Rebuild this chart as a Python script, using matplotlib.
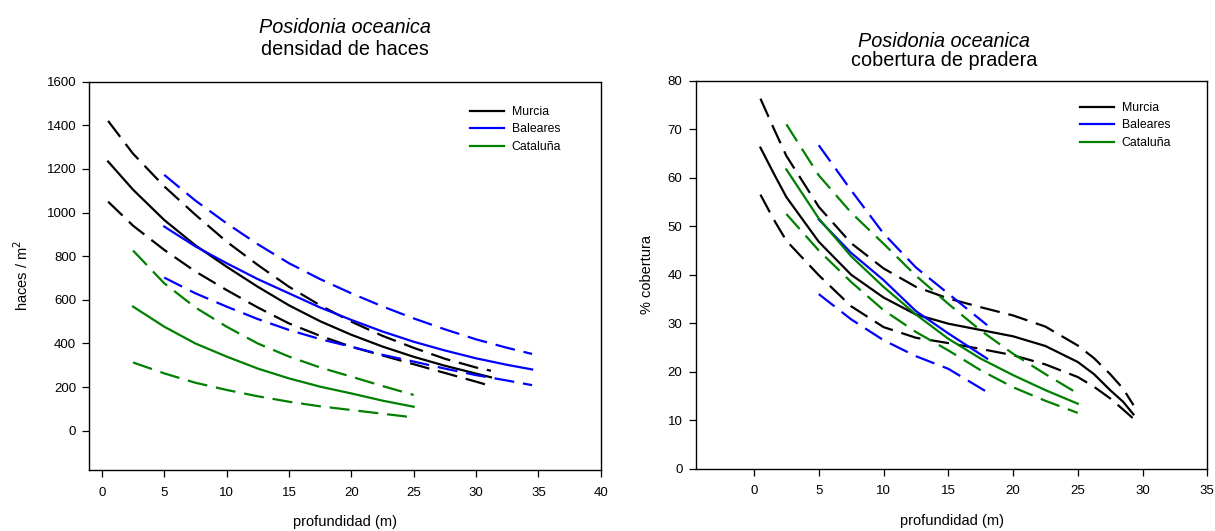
import matplotlib
matplotlib.use('Agg')
import matplotlib.pyplot as plt

plt.rcParams['font.family'] = ['Liberation Sans', 'DejaVu Sans']

# --- densidad de haces (haces / m2) ---
dens_murcia_x = [0.5, 2.5, 5, 7.5, 10, 12.5, 15, 17.5, 20, 22.5, 25, 27.5, 30, 31.2]
dens_murcia = [1234, 1105, 966, 850, 752, 660, 575, 502, 440, 386, 339, 298, 262, 245]
dens_murcia_hi = [1420, 1270, 1120, 990, 867, 760, 660, 575, 500, 435, 380, 330, 290, 275]
dens_murcia_lo = [1050, 940, 829, 730, 645, 565, 492, 435, 385, 345, 305, 265, 225, 205]

dens_baleares_x = [5, 7.5, 10, 12.5, 15, 17.5, 20, 22.5, 25, 27.5, 30, 32.5, 34.5]
dens_baleares = [936, 845, 768, 695, 630, 565, 508, 455, 408, 368, 332, 302, 281]
dens_baleares_hi = [1173, 1055, 951, 855, 768, 695, 630, 570, 515, 465, 419, 380, 352]
dens_baleares_lo = [702, 630, 569, 512, 462, 420, 385, 348, 317, 285, 255, 230, 209]

dens_cataluna_x = [2.5, 5, 7.5, 10, 12.5, 15, 17.5, 20, 22.5, 25]
dens_cataluna = [569, 477, 400, 340, 285, 240, 202, 171, 138, 110]
dens_cataluna_hi = [826, 676, 565, 477, 400, 340, 290, 248, 205, 164]
dens_cataluna_lo = [313, 263, 220, 187, 158, 133, 112, 95, 78, 61]

# --- cobertura de pradera (%) ---
cob_murcia_x = [0.5, 1.5, 2.5, 5, 7.5, 10, 12.5, 15, 17.5, 20, 22.5, 25, 26.25, 27.5, 28.5, 29.3]
cob_murcia = [66.2, 61, 56, 46.8, 40, 35.3, 31.8, 29.9, 28.6, 27.3, 25.3, 22, 19.5, 16.2, 13.8, 11.2]
cob_murcia_hi = [76.3, 70.3, 64.5, 54, 46.5, 41.3, 37.5, 35.1, 33.3, 31.6, 29.3, 25.4, 22.8, 19.5, 16.5, 13.1]
cob_murcia_lo = [56.5, 51.5, 47, 39.9, 33.5, 29.2, 27, 25.9, 24.7, 23.4, 21.5, 18.9, 16.9, 14.5, 12.2, 10.3]

cob_baleares_x = [5, 7.5, 10, 12.5, 15, 18]
cob_baleares = [51.4, 44.5, 38.9, 32.5, 27.9, 22.7]
cob_baleares_hi = [66.7, 57.4, 48.5, 41.5, 36.1, 29.6]
cob_baleares_lo = [36, 30.8, 26.5, 23.2, 20.6, 15.8]

cob_cataluna_x = [2.5, 5, 7.5, 10, 12.5, 15, 17.5, 20, 22.5, 25]
cob_cataluna = [61.7, 51.6, 43.8, 37.5, 31.8, 26.8, 22.7, 19.3, 16.2, 13.4]
cob_cataluna_hi = [71, 60.5, 52.8, 46.4, 39.8, 34, 28.5, 23.7, 19.5, 15.5]
cob_cataluna_lo = [52.5, 45, 38.5, 32.7, 28.2, 24.4, 20.3, 16.8, 14, 11.5]

regions = ['Murcia', 'Baleares', 'Cataluña']
colors = ['black', 'blue', 'green']

LW = 1.6
DASH = (9, 4)


def draw_panel(ax, series, xlim, ylim, xticks, yticks, ylabel, ylabel_x, legend_xy):
    for (x, m, hi, lo), name, c in zip(series, regions, colors):
        ax.plot(x, m, color=c, lw=LW, label=name)
        ax.plot(x, hi, color=c, lw=LW, dashes=DASH)
        ax.plot(x, lo, color=c, lw=LW, dashes=DASH)
    ax.set_xlim(*xlim)
    ax.set_ylim(*ylim)
    ax.set_xticks(xticks)
    ax.set_yticks(yticks)
    ax.tick_params(top=False, right=False, direction='out', length=5, width=0.9,
                   labelsize=9.5)
    ax.tick_params(axis='x', pad=7)
    ax.tick_params(axis='y', pad=4.5)
    for sp in ax.spines.values():
        sp.set_linewidth(1.0)
    ax.set_xlabel('profundidad (m)', fontsize=10.5, va='center')
    ax.xaxis.set_label_coords(0.5, -0.135)
    ax.set_ylabel(ylabel, fontsize=10.5, va='center')
    ax.yaxis.set_label_coords(ylabel_x, 0.5)
    ax.legend(loc='upper left', bbox_to_anchor=legend_xy, bbox_transform=fig.transFigure,
              frameon=False, fontsize=8.8, handlelength=2.8, handletextpad=0.6,
              labelspacing=0.45, borderpad=0, borderaxespad=0)


W, H = 1215, 531
fig = plt.figure(figsize=(W / 100, H / 100), dpi=100)

ax1 = fig.add_axes([89.4 / W, (H - 470) / H, 511.3 / W, 388.3 / H])
draw_panel(ax1,
           [(dens_murcia_x, dens_murcia, dens_murcia_hi, dens_murcia_lo),
            (dens_baleares_x, dens_baleares, dens_baleares_hi, dens_baleares_lo),
            (dens_cataluna_x, dens_cataluna, dens_cataluna_hi, dens_cataluna_lo)],
           (-1, 40), (-180, 1600), range(0, 45, 5), range(0, 1800, 200),
           'haces / m$^2$', -0.132, (470 / W, 1 - 106 / H))

ax2 = fig.add_axes([695.7 / W, (H - 468.7) / H, 511.6 / W, 388 / H])
draw_panel(ax2,
           [(cob_murcia_x, cob_murcia, cob_murcia_hi, cob_murcia_lo),
            (cob_baleares_x, cob_baleares, cob_baleares_hi, cob_baleares_lo),
            (cob_cataluna_x, cob_cataluna, cob_cataluna_hi, cob_cataluna_lo)],
           (-4.5, 35), (0, 80), range(0, 40, 5), range(0, 90, 10),
           '% cobertura', -0.095, (1080 / W, 1 - 102 / H))

# titles (two lines, first italic)
fig.text(345 / W, 1 - 33 / H, 'Posidonia oceanica', style='italic', fontsize=14.3,
         ha='center', va='baseline')
fig.text(345 / W, 1 - 55 / H, 'densidad de haces', fontsize=14.3, ha='center', va='baseline')
fig.text(944 / W, 1 - 47 / H, 'Posidonia oceanica', style='italic', fontsize=14.3,
         ha='center', va='baseline')
fig.text(944 / W, 1 - 66 / H, 'cobertura de pradera', fontsize=14.3, ha='center', va='baseline')

fig.savefig('out.png', dpi=100)
